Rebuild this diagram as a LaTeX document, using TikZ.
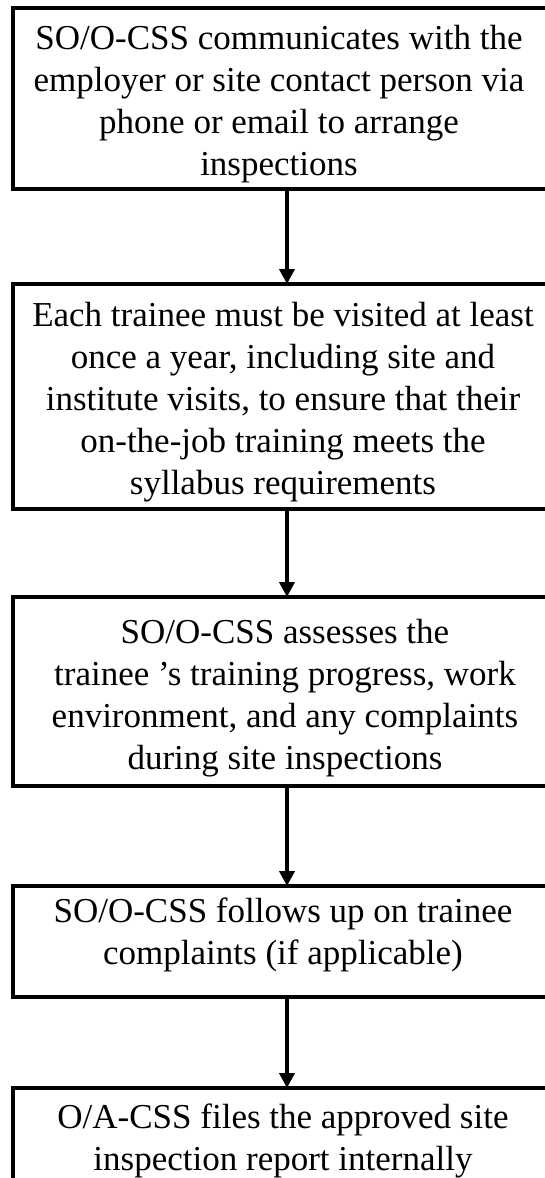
\documentclass[tikz,border=0pt]{standalone}
\usepackage{fontspec}
\setmainfont{Liberation Serif}[Ligatures=ResetAll]
\usetikzlibrary{arrows.meta,calc}
\begin{document}
\begin{tikzpicture}[x=1pt,y=-1pt,
  box/.style={draw=black, line width=4pt, rectangle, minimum width=548pt,
    inner sep=0pt, outer sep=0pt},
  txt/.style={align=center, inner sep=0pt, outer sep=0pt, anchor=north,
    font=\fontsize{35}{42}\selectfont},
  arr/.style={draw=black, line width=4pt, -{Triangle[length=15pt,width=15pt]}}]
\useasboundingbox (0,0) rectangle (545,1178);
\clip (0,0) rectangle (545,1178);
% boxes
\node[box, minimum height=181pt] (b1) at (287,98.5) {};
\node[box, minimum height=225pt] (b2) at (287,396.5) {};
\node[box, minimum height=189pt] (b3) at (287,691.5) {};
\node[box, minimum height=111pt] (b4) at (287,941.5) {};
\node[box, minimum height=180pt] (b5) at (287,1178) {};
% texts
\node[txt] (t1) at ($(b1.north)+(-8,17)$)
  {SO/O-CSS communicates with the\\employer or site contact person via\\phone or email to arrange\\inspections};
\node[txt] (t2) at ($(b2.north)+(-4,18)$)
  {Each trainee must be visited at least\\once a year, including site and\\institute visits, to ensure that their\\on-the-job training meets the\\syllabus requirements};
\node[txt] (t3) at ($(b3.north)+(-2,22)$)
  {SO/O-CSS assesses the\\trainee 's training progress, work\\environment, and any complaints\\during site inspections};
\node[txt] (t4) at ($(b4.north)+(-4,12)$)
  {SO/O-CSS follows up on trainee\\complaints (if applicable)};
\node[txt] (t5) at ($(b5.north)+(-4,16)$)
  {O/A-CSS files the approved site\\inspection report internally};
% connectors
\draw[arr] (b1.south) -- (b2.north);
\draw[arr] (b2.south) -- (b3.north);
\draw[arr] (b3.south) -- (b4.north);
\draw[arr] (b4.south) -- (b5.north);
\end{tikzpicture}
\end{document}
